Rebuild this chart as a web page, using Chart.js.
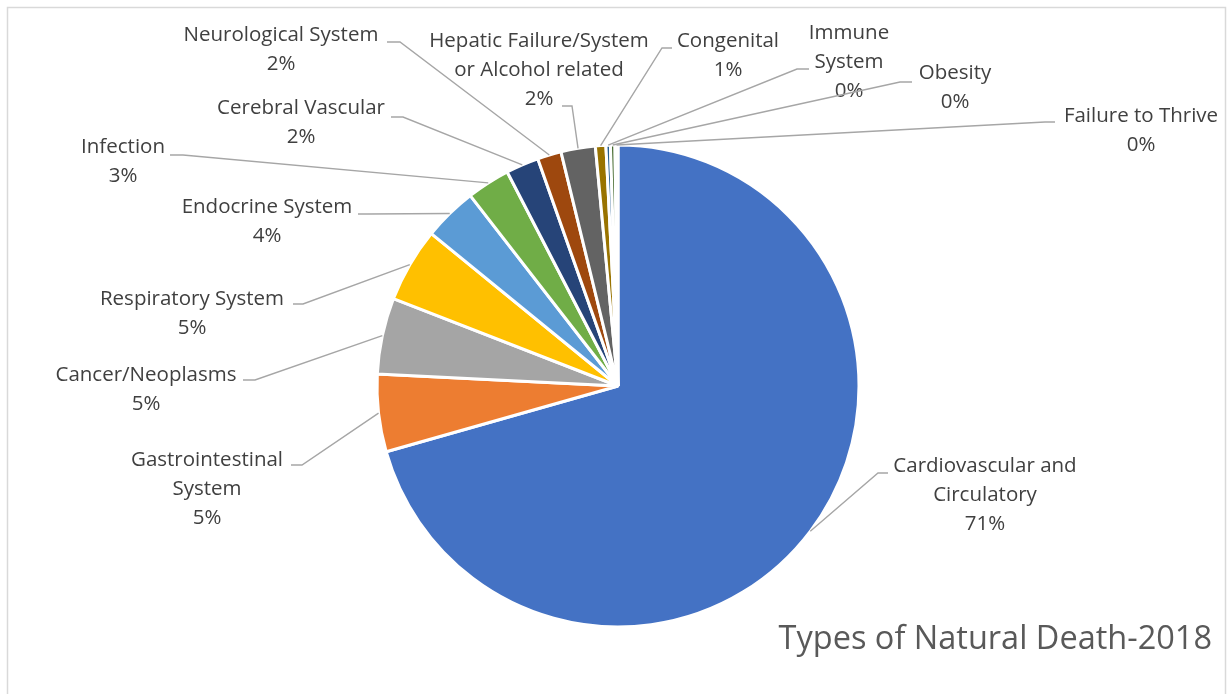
<!DOCTYPE html>
<html lang="en">
<head>
    <meta charset="utf-8">
    <title>Types of Natural Death-2018</title>
    <script src="https://cdn.jsdelivr.net/npm/chart.js"></script>
    <style>
        html, body { margin: 0; padding: 0; background: #fff; }
        #wrap { position: relative; width: 1231px; height: 694px; }
    </style>
</head>
<body>
    <div id="wrap"><canvas id="pie"></canvas></div>
    <script>
        // --- data (percent of natural deaths) ---
        const categories = [
            ['Cardiovascular and', 'Circulatory'],
            ['Gastrointestinal', 'System'],
            ['Cancer/Neoplasms'],
            ['Respiratory System'],
            ['Endocrine System'],
            ['Infection'],
            ['Cerebral Vascular'],
            ['Neurological System'],
            ['Hepatic Failure/System', 'or Alcohol related'],
            ['Congenital'],
            ['Immune', 'System'],
            ['Obesity'],
            ['Failure to Thrive']
        ];
        const shares = [70.6, 5.2, 5.1, 5.0, 3.6, 2.9, 2.2, 1.6, 2.3, 0.7, 0.3, 0.3, 0.2];
        const sliceColors = ['#4472C4', '#ED7D31', '#A5A5A5', '#FFC000', '#5B9BD5', '#70AD47',
            '#264478', '#9E480E', '#636363', '#997300', '#255E91', '#43682B', '#698ED0'];
        const chartTitle = 'Types of Natural Death-2018';

        // where each label sits: text centre x, first line y, elbow of leader, end of leader
        const labelSpots = [
            { x: 985, y: 466, ex: 878, ey: 473, hx: 888 },
            { x: 207, y: 460, ex: 302, ey: 465, hx: 291 },
            { x: 146, y: 375, ex: 255, ey: 380, hx: 243 },
            { x: 192, y: 299, ex: 303, ey: 304, hx: 293 },
            { x: 267, y: 207, ex: 368, ey: 214, hx: 358 },
            { x: 123, y: 147, ex: 183, ey: 155, hx: 170 },
            { x: 301, y: 108, ex: 403, ey: 117, hx: 391 },
            { x: 281, y: 35, ex: 400, ey: 42, hx: 387 },
            { x: 539, y: 41, ex: 572, ey: 106, hx: 562 },
            { x: 728, y: 41, ex: 662, ey: 48, hx: 672 },
            { x: 849, y: 33, ex: 797, ey: 69, hx: 809 },
            { x: 955, y: 73, ex: 900, ey: 82, hx: 912 },
            { x: 1141, y: 116, ex: 1045, ey: 122, hx: 1055 }
        ];
        const LINE_H = 29;
        const LABEL_FONT = '20.5px "Open Sans"';

        const labelPlugin = {
            id: 'excelLabels',
            beforeDraw(chart) {
                const ctx = chart.ctx;
                ctx.save();
                ctx.strokeStyle = '#d9d9d9';
                ctx.lineWidth = 1.5;
                ctx.strokeRect(7.5, 7.5, 1218, 720);
                ctx.restore();
            },
            afterDatasetsDraw(chart) {
                const ctx = chart.ctx;
                const meta = chart.getDatasetMeta(0);
                const total = shares.reduce((a, b) => a + b, 0);
                ctx.save();
                meta.data.forEach((arc, i) => {
                    const p = arc.getProps(['x', 'y', 'startAngle', 'endAngle', 'outerRadius'], true);
                    const mid = (p.startAngle + p.endAngle) / 2;
                    const px = p.x + Math.cos(mid) * p.outerRadius;
                    const py = p.y + Math.sin(mid) * p.outerRadius;
                    const s = labelSpots[i];

                    // leader line
                    ctx.strokeStyle = '#a6a6a6';
                    ctx.lineWidth = 1.4;
                    ctx.beginPath();
                    ctx.moveTo(px, py);
                    ctx.lineTo(s.ex, s.ey);
                    ctx.lineTo(s.hx, s.ey);
                    ctx.stroke();

                    // text
                    const lines = categories[i].concat([Math.round(shares[i] / total * 100) + '%']);
                    ctx.fillStyle = '#404040';
                    ctx.font = LABEL_FONT;
                    ctx.textAlign = 'center';
                    ctx.textBaseline = 'middle';
                    lines.forEach((t, k) => ctx.fillText(t, s.x, s.y + k * LINE_H));
                });

                ctx.fillStyle = '#595959';
                ctx.font = '32.5px "Open Sans"';
                ctx.textAlign = 'right';
                ctx.textBaseline = 'middle';
                ctx.fillText(chartTitle, 1212, 640);
                ctx.restore();
            }
        };

        new Chart(document.getElementById('pie'), {
            type: 'pie',
            data: {
                labels: categories,
                datasets: [{
                    data: shares,
                    backgroundColor: sliceColors,
                    borderColor: '#ffffff',
                    borderWidth: 3,
                    radius: 241
                }]
            },
            options: {
                responsive: true,
                maintainAspectRatio: false,
                animation: false,
                events: [],
                layout: { padding: { left: 5, right: 0, top: 78, bottom: 0 } },
                plugins: {
                    legend: { display: false },
                    tooltip: { enabled: false },
                    title: { display: false }
                }
            },
            plugins: [labelPlugin]
        });
    </script>
</body>
</html>
